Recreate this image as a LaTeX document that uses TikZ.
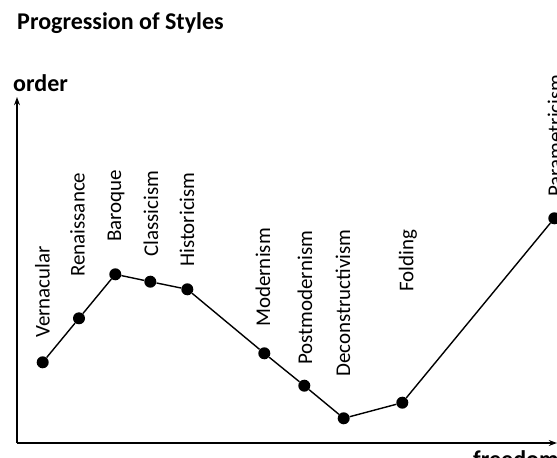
\documentclass[tikz,border=0pt]{standalone}
\usepackage{fontspec}
\setmainfont{Carlito}
\usepackage{tikz}
\usetikzlibrary{arrows.meta}

\begin{document}
\begin{tikzpicture}[x=0.03cm, y=-0.03cm,
	dot/.style={circle, fill=black, inner sep=0pt, minimum size=0.36cm},
	style/.style={rotate=90, anchor=west, inner sep=0pt, font=\fontsize{17.9}{20}\selectfont},
	axislabel/.style={anchor=base west, inner sep=0pt, font=\fontsize{20.5}{24}\selectfont\bfseries}]
	%\draw[help lines] (0,0) grid (557,458);
	\useasboundingbox (0,0) rectangle (557,458);
	\node[axislabel] (title) at (17,30) {Progression of Styles};
	% axes
	\coordinate (o) at (17,443);
	\coordinate (ytop) at (17,97);
	\coordinate (xend) at (557,443);
	\draw[line width=1.2pt, -{Stealth[length=7pt, width=5pt]}] (o) -- (ytop);
	\draw[line width=1.2pt, -{Stealth[length=7pt, width=5pt]}] (o) -- (xend);
	\node[axislabel] (order) at (13,92) {order};
	\node[axislabel] (freedom) at (473,468) {freedom};
	% styles
	\node[dot] (vern) at (42.7,362.3) {};
	\node[dot] (ren) at (79,318.3) {};
	\node[dot] (bar) at (115.3,274.3) {};
	\node[dot] (class) at (150.3,281.7) {};
	\node[dot] (hist) at (187.3,289.3) {};
	\node[dot] (mod) at (264.3,353.3) {};
	\node[dot] (pomo) at (304.3,385.7) {};
	\node[dot] (decon) at (343.7,418.3) {};
	\node[dot] (fold) at (402.3,402.7) {};
	\node[dot] (param) at (554.3,218.3) {};
	\draw[line width=1.2pt] (vern) -- (ren) -- (bar) -- (class) -- (hist) -- (mod)
		-- (pomo) -- (decon) -- (fold) -- (param);
	\node[style] (vernlabel) at (42.5,338) {Vernacular};
	\node[style] (renlabel) at (77.5,277) {Renaissance};
	\node[style] (barlabel) at (116,242) {Baroque};
	\node[style] (classlabel) at (151,257) {Classicism};
	\node[style] (histlabel) at (187,267) {Historicism};
	\node[style] (modlabel) at (263,327) {Modernism};
	\node[style] (pomolabel) at (305,365) {Postmodernism};
	\node[style] (deconlabel) at (343,377) {Deconstructivism};
	\node[style] (foldlabel) at (408,292) {Folding};
	\node[style] (paramlabel) at (555,197) {Parametricism};
\end{tikzpicture}
\end{document}
